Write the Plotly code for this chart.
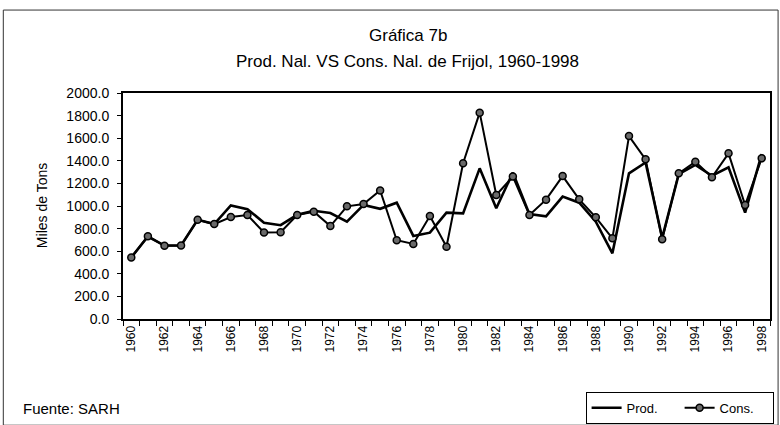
import plotly.graph_objects as go

years = list(range(1960, 1999))
prod = [545, 730, 650, 650, 878, 840, 1005, 972, 852, 830,
        922, 958, 938, 862, 1010, 975, 1029, 735, 764, 941,
        935, 1333, 980, 1295, 928, 908, 1083, 1029, 861, 581,
        1289, 1385, 718, 1282, 1363, 1268, 1342, 941, 1460]
cons = [545, 732, 648, 650, 878, 840, 902, 920, 766, 768,
        920, 950, 822, 997, 1017, 1138, 697, 664, 912, 640,
        1378, 1826, 1097, 1260, 920, 1056, 1265, 1059, 900, 714,
        1619, 1413, 705, 1289, 1392, 1254, 1466, 1009, 1422]
xtick_years = list(range(1960, 1999, 2))
ytick_vals = list(range(0, 2001, 200))

FONT = "Liberation Sans, Arial, sans-serif"

fig = go.Figure()
fig.add_trace(go.Scatter(x=years, y=prod, name="Prod.", mode="lines",
                         line=dict(color="black", width=2.6)))
fig.add_trace(go.Scatter(x=years, y=cons, name="Cons.", mode="lines+markers",
                         line=dict(color="black", width=2),
                         marker=dict(symbol="circle", size=7, color="#6a6a6a",
                                     line=dict(color="black", width=1.5))))

fig.update_layout(
    width=780, height=425,
    margin=dict(l=123, r=10, t=93, b=106, autoexpand=False),
    paper_bgcolor="white", plot_bgcolor="white",
    font=dict(family=FONT, color="black"),
    showlegend=True,
    legend=dict(orientation="h", x=0.715, y=-0.322, xanchor="left", yanchor="top",
                bordercolor="black", borderwidth=1, bgcolor="white",
                font=dict(size=13, family=FONT), itemwidth=30,
                entrywidth=48, tracegroupgap=0),
    xaxis=dict(range=[1959.5, 1998.5], showgrid=False, zeroline=False,
               showline=True, linecolor="black", linewidth=2, mirror=True,
               tickvals=xtick_years, ticktext=[str(y) for y in xtick_years],
               tickangle=-90, ticks="", tickfont=dict(size=12, family=FONT),
               minor=dict(tickvals=[y + 0.5 for y in range(1959, 1999)],
                          ticks="outside", ticklen=5, tickcolor="black")),
    yaxis=dict(range=[0, 2000], showgrid=False, zeroline=False,
               showline=True, linecolor="black", linewidth=2, mirror=True,
               tickvals=ytick_vals, tickformat=".1f", ticks="outside",
               ticklen=4, tickcolor="black", ticklabelstandoff=5,
               tickfont=dict(size=14, family=FONT)),
    annotations=[
        dict(text="Gráfica 7b", xref="paper", yref="paper", x=0.44, y=1.255,
             showarrow=False, font=dict(size=17, family=FONT), xanchor="center", yanchor="middle"),
        dict(text="Prod. Nal. VS Cons. Nal. de Frijol, 1960-1998", xref="paper", yref="paper",
             x=0.44, y=1.14, showarrow=False, font=dict(size=17, family=FONT),
             xanchor="center", yanchor="middle"),
        dict(text="Miles de Tons", xref="paper", yref="paper", x=-0.125, y=0.5,
             textangle=-90, showarrow=False, font=dict(size=14, family=FONT),
             xanchor="center", yanchor="middle"),
        dict(text="Fuente: SARH", xref="paper", yref="paper", x=-0.157, y=-0.398,
             showarrow=False, font=dict(size=15, family=FONT),
             xanchor="left", yanchor="middle"),
    ],
    shapes=[dict(type="rect", xref="paper", yref="paper", x0=-0.185, x1=1.0125,
                 y0=-0.47, y1=1.367, line=dict(color="#333", width=1))],
)

fig.write_html("out.html", config={"displayModeBar": False},
               post_script="document.body.style.margin='0';document.body.style.padding='0';")
